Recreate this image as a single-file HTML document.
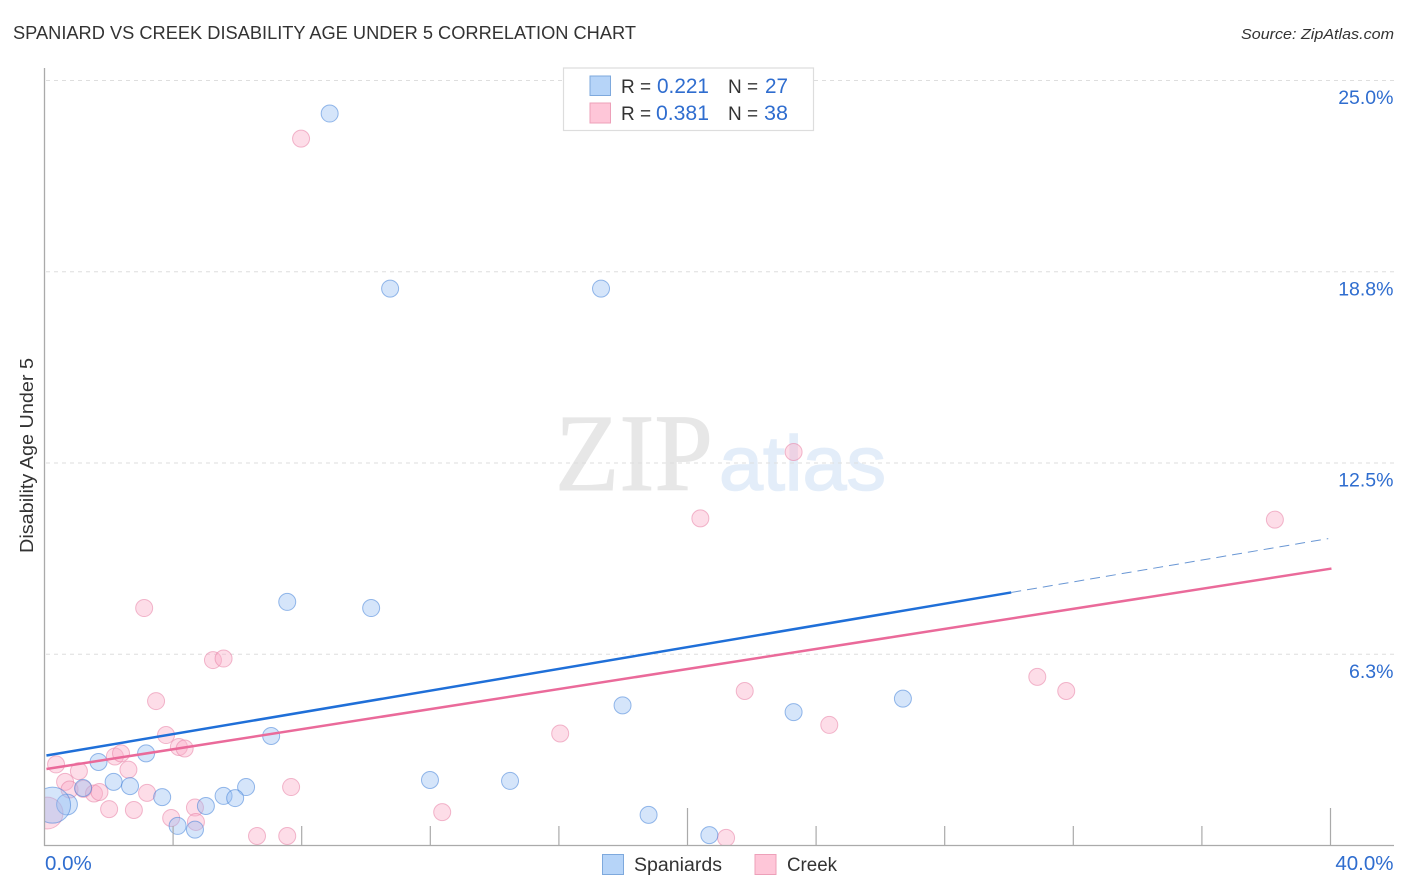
<!DOCTYPE html>
<html lang="en">
<head>
<meta charset="utf-8">
<title>Spaniard vs Creek Disability Age Under 5 Correlation Chart</title>
<style>
html,body{margin:0;padding:0;background:#fff;width:1406px;height:892px;overflow:hidden}
svg{display:block;font-family:"Liberation Sans",sans-serif}
</style>
</head>
<body>
<svg id="chart" width="1406" height="892" viewBox="0 0 1406 892" xmlns="http://www.w3.org/2000/svg">
  <rect x="0" y="0" width="1406" height="892" fill="#fff"/>

  <g>
    <text x="555" y="490" font-family="'Liberation Serif',serif" font-size="110" fill="#e7e7e7" stroke="#e7e7e7" stroke-width="1" textLength="158" lengthAdjust="spacingAndGlyphs">ZIP</text>
    <text x="719" y="490" font-size="77" fill="#e3edf9" stroke="#e3edf9" stroke-width="1.5" textLength="167" lengthAdjust="spacingAndGlyphs">atlas</text>
  </g>

  <g id="grid"></g>
  <g id="points"></g>
  <g id="trends"></g>

  <rect x="0" y="60" width="44" height="800" fill="#fff"/>
  <rect x="0" y="846" width="1406" height="46" fill="#fff"/>

  <text x="13" y="39" font-size="18.5" fill="#333" textLength="623" lengthAdjust="spacingAndGlyphs">SPANIARD VS CREEK DISABILITY AGE UNDER 5 CORRELATION CHART</text>
  <text x="1241" y="39" font-size="15" font-style="italic" fill="#333" textLength="153" lengthAdjust="spacingAndGlyphs">Source: ZipAtlas.com</text>

  <g id="axes">
    <line x1="44.5" y1="68" x2="44.5" y2="846" stroke="#aaa" stroke-width="1.3"/>
    <line x1="44" y1="845.5" x2="1394" y2="845.5" stroke="#aaa" stroke-width="1.3"/>
  </g>
  <g id="x-ticks"></g>
  <g id="y-labels"></g>
  <g id="x-labels"></g>
  <text transform="translate(33,455.5) rotate(-90)" text-anchor="middle" font-size="18" fill="#333" textLength="195" lengthAdjust="spacingAndGlyphs">Disability Age Under 5</text>

  <g>
    <rect x="563.5" y="68" width="250" height="62.5" fill="#fff" stroke="#ddd" stroke-width="1.2"/>
    <rect x="590" y="76" width="20.5" height="19.5" fill="#b6d4f8" stroke="#7ea9dd" stroke-width="1"/>
    <rect x="590" y="103" width="20.5" height="20" fill="#fec6d8" stroke="#eda0b9" stroke-width="1"/>
    <text x="621" y="93" font-size="19" fill="#333">R =</text>
    <text x="657" y="93" font-size="21" fill="#2f6dcf" textLength="52" lengthAdjust="spacingAndGlyphs">0.221</text>
    <text x="728" y="93" font-size="19" fill="#333">N =</text>
    <text x="765" y="93" font-size="21" fill="#2f6dcf" textLength="23" lengthAdjust="spacingAndGlyphs">27</text>
    <text x="621" y="120" font-size="19" fill="#333">R =</text>
    <text x="656" y="120" font-size="21" fill="#2f6dcf" textLength="53" lengthAdjust="spacingAndGlyphs">0.381</text>
    <text x="728" y="120" font-size="19" fill="#333">N =</text>
    <text x="764" y="120" font-size="21" fill="#2f6dcf" textLength="24" lengthAdjust="spacingAndGlyphs">38</text>
  </g>

  <g>
    <rect x="602.5" y="854.5" width="21" height="20" fill="#b6d4f8" stroke="#7ea9dd" stroke-width="1"/>
    <text x="634" y="871" font-size="19" fill="#333" textLength="88" lengthAdjust="spacingAndGlyphs">Spaniards</text>
    <rect x="755" y="854.5" width="21" height="20" fill="#fec6d8" stroke="#eda0b9" stroke-width="1"/>
    <text x="787" y="871" font-size="19" fill="#333" textLength="50" lengthAdjust="spacingAndGlyphs">Creek</text>
  </g>
</svg>
<script>
const yTickValues = [6.25, 12.5, 18.75, 25];
const yTickLabels = ["6.3%", "12.5%", "18.8%", "25.0%"];
const xTickValues = [4, 8, 12, 16, 20, 24, 28, 32, 36, 40];
const xMajorTicks = [20, 40];
const xEndValues = [0, 40];
const xEndLabels = ["0.0%", "40.0%"];

const spaniardX = [8.87,10.75,17.31,7.55,10.16,26.70,17.98,23.30,7.05,3.16,1.68,2.15,2.66,1.20,3.66,6.27,5.57,5.93,5.02,11.99,14.48,18.79,4.14,4.68,20.68,0.70,0.25];
const spaniardY = [23.92,18.20,18.20,7.96,7.76,4.80,4.58,4.36,3.58,3.01,2.73,2.08,1.94,1.88,1.58,1.91,1.62,1.55,1.29,2.14,2.11,1.00,0.64,0.52,0.34,1.34,1.32];
const spaniardWeight = [1,1,1,1,1,1,1,1,1,1,1,1,1,1,1,1,1,1,1,1,1,1,1,1,1,1.5,4.5];

const creekX = [7.98,23.30,20.40,38.27,3.10,5.24,5.57,3.47,21.78,30.88,31.78,24.41,16.04,3.78,4.18,4.36,2.19,2.38,0.36,1.07,2.61,0.64,0.78,1.21,1.54,1.71,3.19,7.67,2.01,2.78,3.94,4.68,4.71,12.37,6.61,7.55,21.20,0.08];
const creekY = [23.10,12.86,10.69,10.65,7.76,6.06,6.11,4.72,5.05,5.51,5.05,3.94,3.66,3.61,3.22,3.17,2.91,3.01,2.65,2.43,2.48,2.08,1.83,1.85,1.70,1.75,1.72,1.91,1.19,1.16,0.90,1.24,0.77,1.09,0.31,0.31,0.25,1.06];
const creekWeight = [1,1,1,1,1,1,1,1,1,1,1,1,1,1,1,1,1,1,1,1,1,1,1,1,1,1,1,1,1,1,1,1,1,1,1,1,1,3.5];

const spaniardTrendX = [0.06, 30.07];
const spaniardTrendY = [2.94, 8.27];
const spaniardTrendExtX = [30.07, 39.93];
const spaniardTrendExtY = [8.27, 10.03];
const creekTrendX = [0.06, 40.03];
const creekTrendY = [2.50, 9.05];

const NS = "http://www.w3.org/2000/svg";
function xScale(v) { return 44.5 + v * (1286 / 40); }
function yScale(v) { return 845.5 - v * (765 / 25); }
function radius(w) { return 8.5 * Math.sqrt(w); }
function make(tag, attrs, parent) {
  const el = document.createElementNS(NS, tag);
  for (const k in attrs) el.setAttribute(k, attrs[k]);
  parent.appendChild(el);
  return el;
}

const gridG = document.getElementById("grid");
const yLabelG = document.getElementById("y-labels");
yTickValues.forEach(function (v, i) {
  const line = make("line", { x1: 46, x2: 1394, y1: yScale(v), y2: yScale(v), stroke: "#dedede", "stroke-width": 1, "stroke-dasharray": "4 4" }, gridG);
  
  
  const label = make("text", { x: 1393.5, y: yScale(v) + 23.5, "text-anchor": "end", "font-size": 19.5, fill: "#2f6dcf" }, yLabelG);
  
  
  label.textContent = yTickLabels[i];
});

const xTickG = document.getElementById("x-ticks");
xTickValues.forEach(function (v) {
  const tall = xMajorTicks.indexOf(v) >= 0;
  const tick = make("line", { x1: xScale(v), x2: xScale(v), y1: tall ? 808 : 826, y2: 845.5, stroke: "#aaa", "stroke-width": 1.2 }, xTickG);
  
  
});

const xLabelG = document.getElementById("x-labels");
xEndValues.forEach(function (v, i) {
  const first = i === 0;
  const label = make("text", { x: first ? xScale(v) + 0.5 : xScale(v) + 63, y: 870, "text-anchor": first ? "start" : "end", "font-size": 20.5, fill: "#2f6dcf" }, xLabelG);
  
  
  label.textContent = xEndLabels[i];
});

const pointsG = document.getElementById("points");
function drawSeries(xs, ys, ws, fill, stroke, name) {
  xs.forEach(function (x, i) {
    const c = make("circle", { cx: xScale(x), cy: yScale(ys[i]), r: radius(ws[i]), fill: fill, stroke: stroke, "stroke-width": 1 }, pointsG);
    
    
  });
}
drawSeries(creekX, creekY, creekWeight, "rgba(251,175,200,0.42)", "rgba(232,130,165,0.55)", "creek-point");
drawSeries(spaniardX, spaniardY, spaniardWeight, "rgba(150,190,242,0.40)", "rgba(60,125,215,0.52)", "spaniard-point");

const trendG = document.getElementById("trends");
function drawLine(xs, ys, color, width, dash, name) {
  const attrs = { x1: xScale(xs[0]), y1: yScale(ys[0]), x2: xScale(xs[1]), y2: yScale(ys[1]), stroke: color, "stroke-width": width };
  if (dash) attrs["stroke-dasharray"] = dash;
  const l = make("line", attrs, trendG);
  
  
}
drawLine(spaniardTrendX, spaniardTrendY, "#1f6fd8", 2.5, null, "spaniard-trend-line");
drawLine(spaniardTrendExtX, spaniardTrendExtY, "#6a97d4", 1, "10 6", "spaniard-trend-extension");
drawLine(creekTrendX, creekTrendY, "#ea6a9a", 2.5, null, "creek-trend-line");
</script>
</body>
</html>
